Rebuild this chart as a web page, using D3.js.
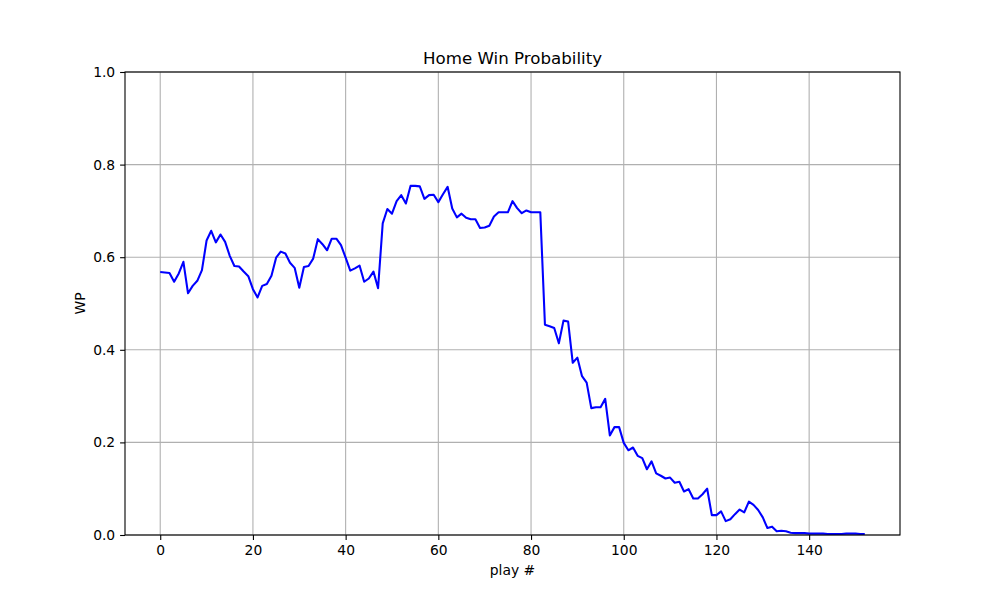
<!DOCTYPE html>
<html><head><meta charset="utf-8">
<script src="https://cdn.jsdelivr.net/npm/d3@7"></script>
<style>body{margin:0;background:#fff}svg{display:block}</style>
</head><body>
<svg id="c" width="1000" height="600"></svg>
<script>
const title = "Home Win Probability";
const xLabel = "play #";
const yLabel = "WP";
const xTicks = [0, 20, 40, 60, 80, 100, 120, 140];
const yTicks = [0.0, 0.2, 0.4, 0.6, 0.8, 1.0];
const wp = [
 0.568,0.567,0.566,0.547,0.565,0.590,0.522,0.538,0.549,0.572,
 0.636,0.657,0.632,0.649,0.633,0.603,0.581,0.580,0.569,0.559,
 0.531,0.513,0.538,0.542,0.560,0.599,0.612,0.608,0.588,0.577,
 0.534,0.579,0.581,0.597,0.639,0.628,0.615,0.640,0.640,0.626,
 0.599,0.571,0.576,0.582,0.547,0.554,0.569,0.533,0.673,0.704,
 0.694,0.721,0.734,0.716,0.754,0.754,0.753,0.726,0.734,0.735,
 0.719,0.736,0.752,0.705,0.686,0.694,0.685,0.682,0.682,0.663,
 0.664,0.668,0.688,0.697,0.697,0.697,0.721,0.706,0.695,0.701,
 0.697,0.697,0.697,0.454,0.451,0.447,0.414,0.463,0.461,0.372,
 0.383,0.343,0.329,0.274,0.276,0.276,0.294,0.215,0.233,0.233,
 0.199,0.183,0.189,0.171,0.166,0.142,0.159,0.133,0.128,0.122,
 0.124,0.113,0.115,0.094,0.099,0.079,0.079,0.088,0.100,0.043,
 0.043,0.051,0.030,0.034,0.045,0.055,0.049,0.072,0.065,0.054,
 0.038,0.015,0.018,0.008,0.009,0.008,0.005,0.004,0.004,0.004,
 0.003,0.003,0.003,0.003,0.002,0.002,0.002,0.002,0.003,0.003,
 0.003,0.002,0.002
];
const plays = wp.map((d, i) => i);

const svg = d3.select("#c");
const L = 125, R = 900, T = 72, B = 535;
const xmin = d3.min(plays), xmax = d3.max(plays), pad = (xmax - xmin) * 0.05;
const x = d3.scaleLinear().domain([xmin - pad, xmax + pad]).range([L, R]);
const y = d3.scaleLinear().domain([0, 1]).range([B, T]);
const font = "DejaVu Sans, sans-serif";

// grid
const g = svg.append("g");
g.selectAll(".gx").data(xTicks).join("line")
  .attr("x1", d => x(d)).attr("x2", d => x(d)).attr("y1", T).attr("y2", B)
  .attr("stroke", "#b0b0b0").attr("stroke-width", 1.1);
g.selectAll(".gy").data(yTicks).join("line")
  .attr("y1", d => y(d)).attr("y2", d => y(d)).attr("x1", L).attr("x2", R)
  .attr("stroke", "#b0b0b0").attr("stroke-width", 1.1);

// line
svg.append("path").datum(wp)
  .attr("fill", "none").attr("stroke", "#0000ff").attr("stroke-width", 2.08)
  .attr("stroke-linejoin", "round").attr("stroke-linecap", "butt")
  .attr("d", d3.line().x((d, i) => x(plays[i])).y(d => y(d)));

// axes
const xa = svg.append("g").attr("transform", `translate(0,${B})`)
  .call(d3.axisBottom(x).tickValues(xTicks).tickFormat(d3.format("d")).tickSizeOuter(0).tickSize(4.9).tickPadding(4.9));
const ya = svg.append("g").attr("transform", `translate(${L},0)`)
  .call(d3.axisLeft(y).tickValues(yTicks).tickFormat(d3.format(".1f")).tickSizeOuter(0).tickSize(4.9).tickPadding(4.9));
[xa, ya].forEach(a => {
  a.select(".domain").remove();
  a.selectAll("line").attr("stroke", "#000").attr("stroke-width", 1.1);
  a.selectAll("text").attr("font-family", font).attr("font-size", "13.89px").attr("fill", "#000");
});

// frame
svg.append("rect").attr("x", L).attr("y", T).attr("width", R - L).attr("height", B - T)
  .attr("fill", "none").attr("stroke", "#000").attr("stroke-width", 1.1);

svg.append("text").attr("x", (L + R) / 2).attr("y", 64).attr("text-anchor", "middle")
  .attr("font-family", font).attr("font-size", "16.67px").text(title);
svg.append("text").attr("x", (L + R) / 2).attr("y", 575).attr("text-anchor", "middle")
  .attr("font-family", font).attr("font-size", "13.89px").text(xLabel);
svg.append("text").attr("transform", `translate(85,${(T + B) / 2}) rotate(-90)`).attr("text-anchor", "middle")
  .attr("font-family", font).attr("font-size", "13.89px").text(yLabel);
</script>
</body></html>
